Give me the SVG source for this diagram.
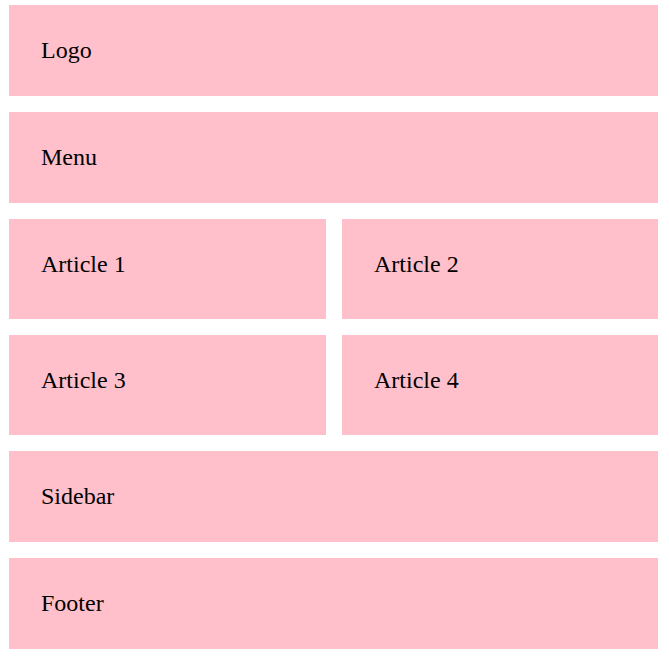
<svg xmlns="http://www.w3.org/2000/svg" width="669" height="656" viewBox="0 0 669 656">
<style>
.box{fill:#ffc0cb}
.lbl{font-family:"Liberation Serif","Times New Roman",serif;font-size:24px;fill:#000}
</style>
<rect width="669" height="656" fill="#fff"/>
<g id="logo"><rect class="box" x="9" y="5" width="649" height="91"/><text class="lbl" x="41" y="58">Logo</text></g>
<g id="menu"><rect class="box" x="9" y="112" width="649" height="91"/><text class="lbl" x="41" y="165">Menu</text></g>
<g id="article1"><rect class="box" x="9" y="219" width="317" height="100"/><text class="lbl" x="41" y="272">Article 1</text></g>
<g id="article2"><rect class="box" x="342" y="219" width="316" height="100"/><text class="lbl" x="374" y="272">Article 2</text></g>
<g id="article3"><rect class="box" x="9" y="335" width="317" height="100"/><text class="lbl" x="41" y="388">Article 3</text></g>
<g id="article4"><rect class="box" x="342" y="335" width="316" height="100"/><text class="lbl" x="374" y="388">Article 4</text></g>
<g id="sidebar"><rect class="box" x="9" y="451" width="649" height="91"/><text class="lbl" x="41" y="504">Sidebar</text></g>
<g id="footer"><rect class="box" x="9" y="558" width="649" height="91"/><text class="lbl" x="41" y="611">Footer</text></g>
<g id="connectors"></g>
</svg>
